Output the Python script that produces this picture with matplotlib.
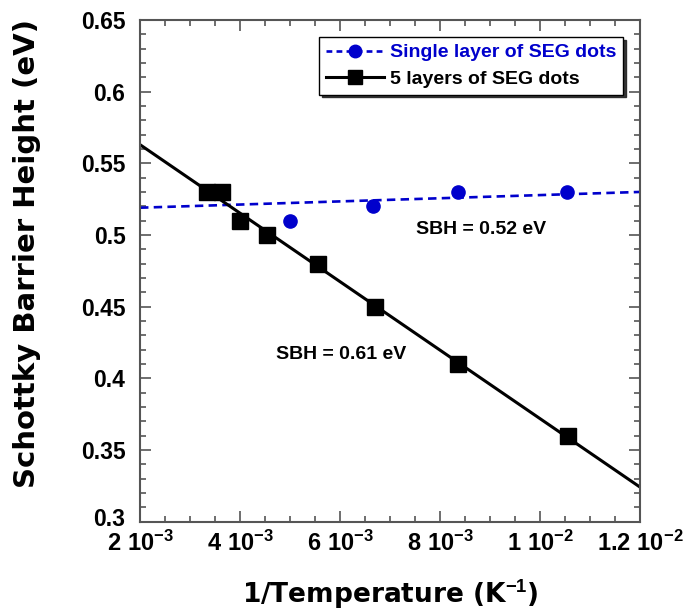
import matplotlib
matplotlib.use("Agg")
import matplotlib.pyplot as plt
from matplotlib.ticker import FixedLocator, MultipleLocator
from matplotlib.transforms import ScaledTranslation

plt.rcParams['font.family'] = ['Liberation Sans', 'DejaVu Sans']
plt.rcParams['font.weight'] = 'bold'
plt.rcParams['mathtext.fontset'] = 'custom'
plt.rcParams['mathtext.rm'] = 'Liberation Sans:bold'
plt.rcParams['mathtext.it'] = 'Liberation Sans:bold'
plt.rcParams['mathtext.bf'] = 'Liberation Sans:bold'

# Data (1/T in K^-1, SBH in eV)
single_x = [5.0e-3, 6.66e-3, 8.36e-3, 10.54e-3]
single_y = [0.51, 0.52, 0.53, 0.53]
five_x = [3.34e-3, 3.64e-3, 4.0e-3, 4.54e-3, 5.56e-3, 6.7e-3, 8.36e-3, 10.56e-3]
five_y = [0.53, 0.53, 0.51, 0.50, 0.48, 0.45, 0.41, 0.36]
fit_x = [2e-3, 1.2e-2]
single_fit_y = [0.519, 0.530]
five_fit_y = [0.563, 0.324]

xticks = [2e-3, 4e-3, 6e-3, 8e-3, 1e-2, 1.2e-2]
xticklabels = [r'$\mathrm{2\ 10^{-3}}$', r'$\mathrm{4\ 10^{-3}}$', r'$\mathrm{6\ 10^{-3}}$',
               r'$\mathrm{8\ 10^{-3}}$', r'$\mathrm{1\ 10^{-2}}$', r'$\mathrm{1.2\ 10^{-2}}$']
yticks = [0.3, 0.35, 0.4, 0.45, 0.5, 0.55, 0.6, 0.65]
yticklabels = ['0.3', '0.35', '0.4', '0.45', '0.5', '0.55', '0.6', '0.65']

fig = plt.figure(figsize=(6.85, 6.12), dpi=100)
ax = fig.add_axes([140/685, 1-521.5/612, 500/685, 501.5/612])

blue = '#0000cc'
ax.plot(fit_x, single_fit_y, color=blue, ls=(0, (3.2, 2)), lw=1.9)
ax.plot(single_x, single_y, 'o', color=blue, ms=9.5, ls='none')
ax.plot(fit_x, five_fit_y, color='black', lw=2.2)
ax.plot(five_x, five_y, 's', color='black', ms=11, ls='none')

# legend proxies
h1, = ax.plot([], [], color=blue, ls=(0, (2.2, 1.6)), lw=1.9, marker='o', ms=9)
h2, = ax.plot([], [], color='black', lw=2.2, marker='s', ms=10)
leg = ax.legend([h1, h2], ['Single layer of SEG dots', '5 layers of SEG dots'],
                loc='upper right', bbox_to_anchor=(0.966, 0.966), fontsize=14,
                frameon=True, fancybox=False, shadow={'color': '#222222', 'alpha': 0.9},
                edgecolor='black', borderaxespad=0,
                handlelength=3.0, borderpad=0.35, labelspacing=0.45, handletextpad=0.3)
leg.get_frame().set_linewidth(1.0)
leg.get_texts()[0].set_color(blue)

ax.text(8.82e-3, 0.504, 'SBH = 0.52 eV', fontsize=14, fontweight='bold', ha='center', va='center')
ax.text(6.02e-3, 0.4167, 'SBH = 0.61 eV', fontsize=14, fontweight='bold', ha='center', va='center')

ax.set_xlim(2e-3, 1.2e-2)
ax.set_ylim(0.3, 0.65)
ax.xaxis.set_major_locator(FixedLocator(xticks))
ax.set_xticklabels(xticklabels)
ax.yaxis.set_major_locator(FixedLocator(yticks))
ax.set_yticklabels(yticklabels)
ax.xaxis.set_minor_locator(MultipleLocator(0.5e-3))
ax.yaxis.set_minor_locator(MultipleLocator(0.01))
ax.tick_params(which='both', direction='in', top=True, right=True, color='#555555', width=1.2)
ax.tick_params(which='major', length=8)
ax.tick_params(which='minor', length=4)
ax.tick_params(axis='x', labelsize=17, pad=6.5)
ax.tick_params(axis='y', labelsize=16.5, pad=10.5)
for s in ax.spines.values():
    s.set_color('#555555')
    s.set_linewidth(1.5)

# nudge the lowest y tick label up slightly, as in the reference
lab0 = ax.get_yticklabels()[0]
lab0.set_transform(lab0.get_transform() + ScaledTranslation(0, 3/72, fig.dpi_scale_trans))

ax.set_xlabel(r'1/Temperature (K$^{\mathrm{-1}}$)', fontsize=19, fontweight='bold',
              family='DejaVu Sans')
ax.set_ylabel('Schottky Barrier Height (eV)', fontsize=21, fontweight='bold',
              family='DejaVu Sans')
ax.xaxis.set_label_coords(0.5, (521.5 - 579) / 501.5)
ax.yaxis.set_label_coords((41 - 140) / 500, 0.535)

fig.savefig('out.png', dpi=100)
